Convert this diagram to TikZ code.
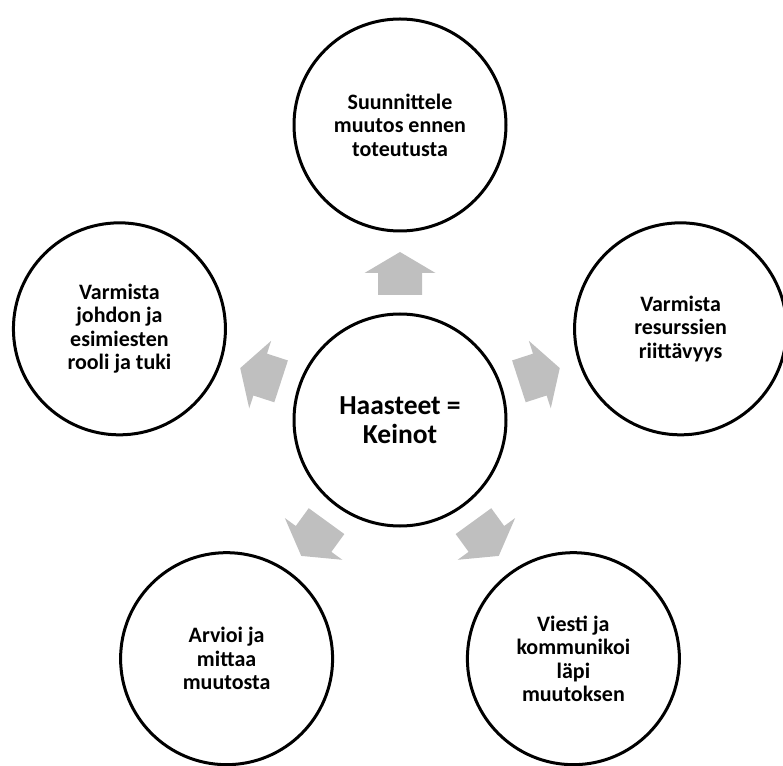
\documentclass[tikz,border=0pt]{standalone}
\usepackage{fontspec}
\setmainfont{Carlito}

\begin{document}
\begin{tikzpicture}[x=1pt,y=1pt,font=\bfseries\fontsize{22}{23.5}\selectfont,
    ympyra/.style={draw,circle,line width=3pt,minimum size=212pt,
    inner sep=0pt,align=center},
    nuoli/.style={fill=black!25,draw=none}]
  \useasboundingbox (-400,-345) rectangle (383,420);

  \node[ympyra,font=\bfseries\fontsize{27.5}{28.5}\selectfont] (keinot) at (0,0)
    {Haasteet =\\Keinot};

  \node[ympyra] (suunnittele) at (90:295) {Suunnittele\\muutos ennen\\toteutusta};
  \node[ympyra] (resurssit) at (18:295) {Varmista\\resurssien\\riittävyys};
  \node[ympyra] (viesti) at (-54:295) {Viesti ja\\kommunikoi\\läpi\\muutoksen};
  \node[ympyra] (arvioi) at (-126:295) {Arvioi ja\\mittaa\\muutosta};
  \node[ympyra] (johto) at (162:295) {Varmista\\johdon ja\\esimiesten\\rooli ja tuki};

  % block arrows out of the centre
  \fill[nuoli,rotate=90] (125,-22) -- (147,-22) -- (147,-35.5) -- (168,0)
    -- (147,35.5) -- (147,22) -- (125,22) -- cycle;
  \fill[nuoli,rotate=18] (125,-22) -- (147,-22) -- (147,-35.5) -- (168,0)
    -- (147,35.5) -- (147,22) -- (125,22) -- cycle;
  \fill[nuoli,rotate=-54] (125,-22) -- (147,-22) -- (147,-35.5) -- (168,0)
    -- (147,35.5) -- (147,22) -- (125,22) -- cycle;
  \fill[nuoli,rotate=-126] (125,-22) -- (147,-22) -- (147,-35.5) -- (168,0)
    -- (147,35.5) -- (147,22) -- (125,22) -- cycle;
  \fill[nuoli,rotate=162] (125,-22) -- (147,-22) -- (147,-35.5) -- (168,0)
    -- (147,35.5) -- (147,22) -- (125,22) -- cycle;
\end{tikzpicture}
\end{document}
